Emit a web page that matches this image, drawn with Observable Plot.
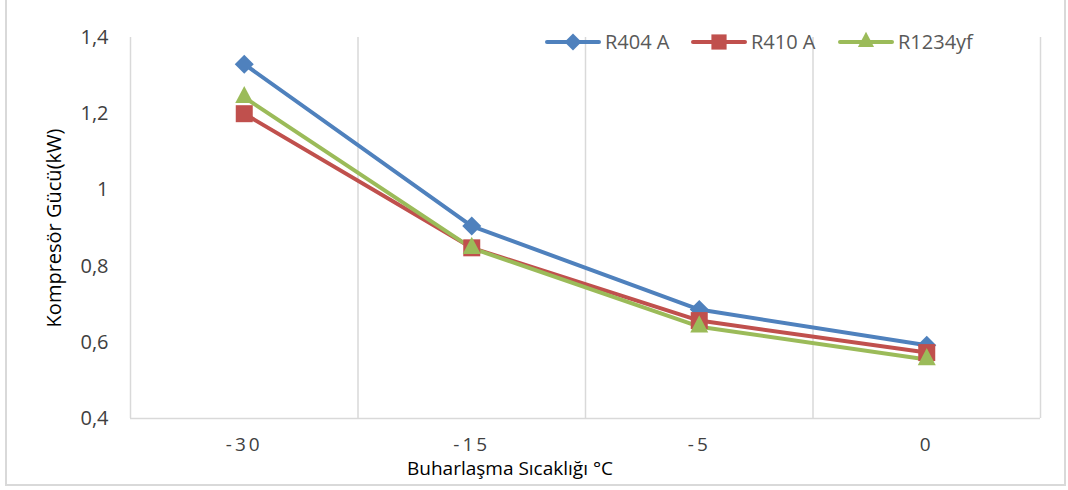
<!DOCTYPE html>
<html>
<head>
<meta charset="utf-8">
<script src="https://cdn.jsdelivr.net/npm/d3@7"></script>
<script src="https://cdn.jsdelivr.net/npm/@observablehq/plot@0.6"></script>
<style>
  html, body { margin: 0; padding: 0; background: #fff; }
  #wrap { position: relative; width: 1068px; height: 490px; overflow: hidden; font-family: "Open Sans", Lato, sans-serif; }
  #frame { position: absolute; left: 5px; top: -4px; width: 1061px; height: 490px; border: 2px solid #d9d9d9; box-sizing: border-box; }
  #legend { position: absolute; top: 0; left: 0; font-size: 20px; color: #595959; }
  #legend .item { position: absolute; top: 31px; display: flex; align-items: center; white-space: nowrap; line-height: 1; }
  #legend svg { display: block; }
  #xtitle { position: absolute; top: 460px; left: 510px; transform: translateX(-50%); font-size: 19px; line-height: 16px; color: #000; white-space: nowrap; }
</style>
</head>
<body>
<div id="wrap">
  <div id="chart"></div>
  <div id="frame"></div>
  <div id="legend"></div>
  <div id="xtitle">Buharlaşma Sıcaklığı °C</div>
</div>
<script>
const categories = ["-30", "-15", "-5", "0"];
const seriesNames = ["R404 A", "R410 A", "R1234yf"];
const r404a = [1.33, 0.905, 0.686, 0.592];
const r410a = [1.2, 0.848, 0.657, 0.573];
const r1234yf = [1.243, 0.847, 0.641, 0.555];
const yTicks = [0.4, 0.6, 0.8, 1.0, 1.2, 1.4];

const colors = ["#4F81BD", "#C0504D", "#9BBB59"];

// custom Excel-like marker shapes (size = pi * r^2)
const rotSquare = {draw(ctx, size) { const r = Math.sqrt(size / Math.PI); ctx.moveTo(0, -r); ctx.lineTo(r, 0); ctx.lineTo(0, r); ctx.lineTo(-r, 0); ctx.closePath(); }};
const square = {draw(ctx, size) { const r = Math.sqrt(size / Math.PI); ctx.rect(-r, -r, 2 * r, 2 * r); }};
const tri = {draw(ctx, size) { const r = Math.sqrt(size / Math.PI); const h = 2 * r * 0.95; ctx.moveTo(0, -h * 2 / 3); ctx.lineTo(r, h / 3); ctx.lineTo(-r, h / 3); ctx.closePath(); }};
const shapes = [rotSquare, square, tri];
const radii = [9.5, 8.5, 9];
const values = [r404a, r410a, r1234yf];

const seriesData = seriesNames.map((s, si) => categories.map((c, ci) => ({series: s, idx: ci, value: values[si][ci]})));
const data = seriesData.flat();
const boundaries = d3.range(categories.length + 1).map(i => i - 0.5);
const fmt = d => (+d.toFixed(1)).toString().replace(".", ",");

const chart = Plot.plot({
  width: 1068,
  height: 490,
  marginLeft: 130,
  marginRight: 28,
  marginTop: 37,
  marginBottom: 72,
  style: {fontFamily: "'Open Sans', Lato, sans-serif", fontSize: "20px", color: "#404040", background: "transparent"},
  x: {domain: [-0.5, categories.length - 0.5]},
  y: {domain: [0.4, 1.4]},
  color: {domain: seriesNames, range: colors},
  marks: [
    Plot.ruleX(boundaries, {x: d => d, y1: 0.4, y2: 1.4, stroke: "#d9d9d9", strokeWidth: 1.5}),
    Plot.ruleY([0.4], {x1: -0.5, x2: categories.length - 0.5, stroke: "#d9d9d9", strokeWidth: 1.5}),
    Plot.axisX({ticks: d3.range(categories.length), tickFormat: i => categories[i], tickSize: 0, tickPadding: 19, label: null, fill: "#404040", fontSize: 19}),
    Plot.axisY({ticks: yTicks, tickFormat: fmt, tickSize: 0, tickPadding: 22, label: "Kompresör Gücü(kW)", labelAnchor: "center", labelArrow: "none", labelOffset: 84, fill: "#404040"}),
    Plot.line(data, {x: "idx", y: "value", stroke: "series", z: "series", strokeWidth: 4, strokeLinejoin: "round"}),
    ...seriesData.map((sd, i) => Plot.dot(sd, {x: "idx", y: "value", fill: "series", symbol: shapes[i], r: radii[i], stroke: "none"}))
  ]
});
document.getElementById("chart").appendChild(chart);

chart.querySelectorAll('g[aria-label="x-axis tick label"] text').forEach(t => t.setAttribute("letter-spacing", "3px"));
chart.querySelectorAll('g[aria-label="y-axis label"] text').forEach(t => t.setAttribute("fill", "#000"));

// Legend
const legend = document.getElementById("legend");
const starts = [545, 691, 838];
seriesNames.forEach((s, i) => {
  const item = document.createElement("div");
  item.className = "item";
  item.style.left = starts[i] + "px";
  const w = 56, h = 22;
  const svg = d3.create("svg").attr("width", w).attr("height", h);
  svg.append("line").attr("x1", 2).attr("x2", w - 2).attr("y1", h / 2).attr("y2", h / 2)
    .attr("stroke", colors[i]).attr("stroke-width", 4).attr("stroke-linecap", "round");
  svg.append("path").attr("d", d3.symbol(shapes[i], Math.PI * radii[i] * radii[i] * 0.8)())
    .attr("transform", `translate(${w / 2},${h / 2})`).attr("fill", colors[i]);
  item.appendChild(svg.node());
  const label = document.createElement("span");
  label.textContent = s;
  label.style.marginLeft = "4px";
  item.appendChild(label);
  legend.appendChild(item);
});
</script>
</body>
</html>
